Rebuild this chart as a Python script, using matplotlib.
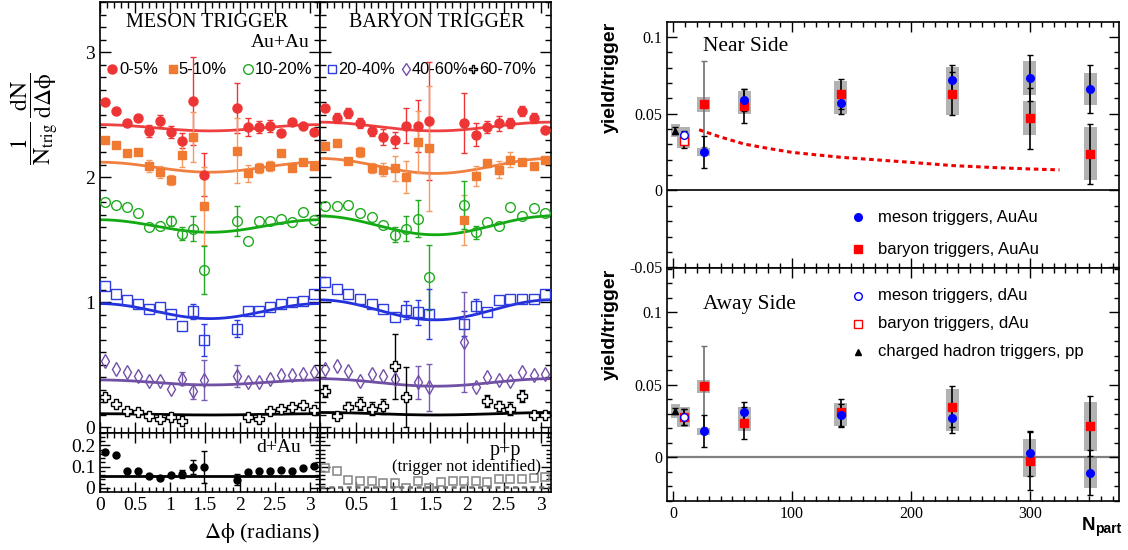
import numpy as np
import matplotlib
matplotlib.use("Agg")
import matplotlib.pyplot as plt
from matplotlib.ticker import MultipleLocator, FormatStrFormatter
from matplotlib.patches import Rectangle

plt.rcParams["font.family"] = "serif"
plt.rcParams["font.serif"] = ["Liberation Serif", "DejaVu Serif"]
plt.rcParams["mathtext.fontset"] = "stix"
plt.rcParams["axes.unicode_minus"] = False

SANS = "Liberation Sans"
nan = np.nan

# ---------------------------------------------------
# Left: dN/dDphi per trigger, 20 bins in 0..pi
# ---------------------------------------------------

N_BINS = 20
dphi = (np.arange(N_BINS) + 0.5) * np.pi / N_BINS

cent_labels = ["0-5%", "5-10%", "10-20%", "20-40%", "40-60%", "60-70%"]

# meson trigger, Au+Au
m_0_5 = [2.60, 2.53, 2.43, 2.47, 2.37, 2.45, 2.36, 2.29, 2.61, 2.02, nan, nan, 2.55, 2.40, 2.40, 2.41, 2.35, 2.44, 2.41, 2.36]
m_0_5_err = [0.03, 0.03, 0.03, 0.03, 0.05, 0.05, 0.05, 0.06, 0.35, 0.17, nan, nan, 0.20, 0.07, 0.05, 0.05, 0.03, 0.03, 0.03, 0.03]
m_5_10 = [2.30, 2.26, 2.19, 2.20, 2.09, 2.04, 1.98, 2.18, 2.32, 1.77, nan, nan, 2.21, 2.03, 2.07, 2.09, 2.19, 2.07, 2.12, 2.09]
m_5_10_err = [0.03, 0.03, 0.03, 0.03, 0.05, 0.05, 0.04, 0.10, 0.20, 0.31, nan, nan, 0.26, 0.07, 0.04, 0.04, 0.03, 0.03, 0.03, 0.03]
m_10_20 = [1.80, 1.78, 1.76, 1.71, 1.60, 1.61, 1.65, 1.55, 1.59, 1.26, nan, nan, 1.65, 1.49, 1.65, 1.65, 1.67, 1.64, 1.72, 1.66]
m_10_20_err = [0.02, 0.02, 0.02, 0.02, 0.02, 0.02, 0.04, 0.055, 0.10, 0.19, nan, nan, 0.12, 0.03, 0.02, 0.02, 0.02, 0.02, 0.02, 0.02]
m_20_40 = [1.13, 1.07, 1.02, 0.99, 0.95, 0.96, 0.91, 0.81, 0.93, 0.70, nan, nan, 0.79, 0.93, 0.93, 0.96, 0.99, 1.00, 1.01, 1.07]
m_20_40_err = [0.02, 0.02, 0.02, 0.02, 0.02, 0.02, 0.02, 0.03, 0.06, 0.13, nan, nan, 0.07, 0.02, 0.02, 0.02, 0.02, 0.02, 0.02, 0.02]
m_40_60 = [0.53, 0.47, 0.44, 0.41, 0.37, 0.37, 0.31, 0.39, 0.29, 0.38, nan, nan, 0.41, 0.36, 0.36, 0.39, 0.42, 0.42, 0.43, 0.44]
m_40_60_err = [0.02, 0.02, 0.02, 0.02, 0.02, 0.02, 0.02, 0.05, 0.06, 0.16, nan, nan, 0.09, 0.02, 0.02, 0.02, 0.02, 0.02, 0.02, 0.02]
m_60_70 = [0.24, 0.19, 0.13, 0.12, 0.09, 0.07, 0.08, 0.05, nan, nan, nan, nan, nan, 0.08, 0.07, 0.13, 0.15, 0.16, 0.18, 0.14]
m_60_70_err = [0.02, 0.02, 0.02, 0.02, 0.02, 0.02, 0.02, 0.02, nan, nan, nan, nan, nan, 0.02, 0.02, 0.02, 0.02, 0.02, 0.02, 0.02]

# baryon trigger, Au+Au
b_0_5 = [2.55, 2.47, 2.51, 2.43, 2.37, 2.32, 2.30, 2.41, 2.41, 2.45, nan, nan, 2.43, 2.34, 2.40, 2.43, 2.43, 2.53, 2.47, 2.38]
b_0_5_err = [0.03, 0.04, 0.04, 0.04, 0.04, 0.065, 0.065, 0.14, 0.21, 0.47, nan, nan, 0.24, 0.09, 0.05, 0.06, 0.04, 0.04, 0.04, 0.03]
b_5_10 = [2.25, 2.27, 2.13, 2.20, 2.07, 2.06, 2.07, 2.00, 2.28, 2.23, nan, nan, 1.66, 2.01, 2.11, 2.06, 2.14, 2.12, 2.09, 2.14]
b_5_10_err = [0.03, 0.03, 0.03, 0.04, 0.04, 0.05, 0.10, 0.13, 0.25, 0.50, nan, nan, 0.20, 0.08, 0.03, 0.07, 0.06, 0.03, 0.03, 0.03]
b_10_20 = [1.77, 1.77, 1.78, 1.71, 1.68, 1.62, 1.54, 1.59, 1.67, 1.20, nan, nan, 1.78, 1.56, 1.64, 1.61, 1.76, 1.69, 1.75, 1.71]
b_10_20_err = [0.02, 0.02, 0.02, 0.02, 0.02, 0.03, 0.06, 0.10, 0.15, 0.26, nan, nan, 0.19, 0.05, 0.02, 0.02, 0.02, 0.02, 0.02, 0.02]
b_20_40 = [1.16, 1.11, 1.07, 1.03, 0.99, 0.95, 0.88, 0.94, 0.92, 0.91, nan, nan, 0.83, 0.97, 0.92, 1.02, 1.03, 1.03, 1.03, 1.07]
b_20_40_err = [0.02, 0.02, 0.02, 0.02, 0.02, 0.02, 0.03, 0.07, 0.10, 0.20, nan, nan, 0.10, 0.06, 0.02, 0.02, 0.02, 0.02, 0.02, 0.02]
b_40_60 = [0.47, 0.49, 0.45, 0.37, 0.43, 0.41, 0.39, nan, 0.36, 0.32, nan, nan, 0.68, 0.32, 0.40, 0.38, 0.37, 0.44, 0.42, 0.43]
b_40_60_err = [0.02, 0.02, 0.02, 0.02, 0.02, 0.02, 0.03, nan, 0.13, 0.19, nan, nan, 0.40, 0.02, 0.02, 0.02, 0.02, 0.02, 0.02, 0.02]
b_60_70 = [0.29, 0.09, 0.16, 0.19, 0.15, 0.17, 0.49, 0.24, nan, nan, nan, nan, nan, nan, 0.21, 0.17, 0.15, 0.25, 0.10, 0.10]
b_60_70_err = [0.05, 0.03, 0.04, 0.05, 0.05, 0.06, 0.26, 0.24, nan, nan, nan, nan, nan, nan, 0.05, 0.04, 0.05, 0.05, 0.03, 0.03]

# flow background: value at 0 / pi and value at pi/2
meson_fit_edge = [2.42, 2.12, 1.66, 0.99, 0.38, 0.11]
meson_fit_mid = [2.37, 2.04, 1.56, 0.87, 0.34, 0.10]
baryon_fit_edge = [2.44, 2.15, 1.69, 1.02, 0.39, 0.12]
baryon_fit_mid = [2.37, 2.03, 1.54, 0.86, 0.33, 0.10]

# d+Au (meson side) and p+p (baryon side)
dau = [0.168, 0.152, 0.079, 0.079, 0.054, 0.046, 0.062, 0.065, 0.098, 0.098, nan, nan, 0.038, 0.076, 0.081, 0.078, 0.082, 0.078, 0.095, 0.105]
dau_err = [0.005, 0.005, 0.005, 0.005, 0.005, 0.005, 0.005, 0.018, 0.035, 0.074, nan, nan, 0.025, 0.005, 0.005, 0.005, 0.005, 0.005, 0.005, 0.005]
dau_level = 0.054
pp = [0.094, 0.081, 0.035, 0.030, 0.030, 0.025, 0.025, -0.002, 0.030, -0.002, 0.027, 0.030, 0.033, 0.033, 0.027, 0.041, 0.041, 0.041, 0.045, 0.051]
pp_level = 0.002

# ---------------------------------------------------
# Right: yields vs Npart
# ---------------------------------------------------

npart_auau = [26, 60, 141, 235, 300, 351]
npart_dau = [9]
npart_pp = [2]

near_meson = [0.025, 0.059, 0.057, 0.072, 0.073, 0.066]
near_meson_stat = [0.0105, 0.007, 0.007, 0.0095, 0.015, 0.0155]
near_meson_sys = [0.0028, 0.0055, 0.0075, 0.0086, 0.011, 0.0105]
near_baryon = [0.056, 0.055, 0.063, 0.063, 0.047, 0.024]
near_baryon_stat = [0.028, 0.011, 0.0097, 0.014, 0.020, 0.0195]
near_baryon_sys = [0.0048, 0.0055, 0.008, 0.014, 0.011, 0.017]
near_dau_meson, near_dau_meson_stat, near_dau_meson_sys = [0.036], [0.003], [0.005]
near_dau_baryon, near_dau_baryon_stat, near_dau_baryon_sys = [0.0325], [0.005], [0.005]
near_pp, near_pp_stat, near_pp_sys = [0.039], [0.0025], [0.004]

near_curve_npart = [22, 40, 60, 80, 100, 141, 200, 235, 270, 300, 325]
near_curve_yield = [0.0395, 0.0348, 0.0302, 0.0274, 0.0248, 0.0216, 0.0183, 0.0162, 0.0149, 0.0140, 0.0134]

away_meson = [0.018, 0.031, 0.029, 0.027, 0.003, -0.0105]
away_meson_stat = [0.011, 0.007, 0.008, 0.010, 0.0155, 0.0155]
away_meson_sys = [0.0025, 0.004, 0.0075, 0.0087, 0.010, 0.0103]
away_baryon = [0.049, 0.024, 0.031, 0.035, -0.0025, 0.0215]
away_baryon_stat = [0.028, 0.011, 0.0095, 0.014, 0.020, 0.0205]
away_baryon_sys = [0.0045, 0.0055, 0.0065, 0.0123, 0.0107, 0.017]
away_dau_meson, away_dau_meson_stat, away_dau_meson_sys = [0.028], [0.0055], [0.007]
away_dau_baryon, away_dau_baryon_stat, away_dau_baryon_sys = [0.028], [0.0055], [0.007]
away_pp, away_pp_stat, away_pp_sys = [0.032], [0.002], [0.0045]

# ---------------------------------------------------
# Styles
# ---------------------------------------------------

STYLES = [
    dict(marker="o", mfc="#ee3535", mec="#ee3535", ms=6.5, mew=1.0),
    dict(marker="s", mfc="#f07a32", mec="#f07a32", ms=6.0, mew=1.0),
    dict(marker="o", mfc="none", mec="#22aa22", ms=7.0, mew=1.0),
    dict(marker="s", mfc="none", mec="#2d3cdc", ms=7.5, mew=1.0),
    dict(marker="d", mfc="none", mec="#7350a8", ms=7.5, mew=1.0),
    dict(marker="P", mfc="white", mec="black", ms=7.5, mew=1.0),
]
BAR_COLORS = ["#ee3535", "#f59a60", "#22aa22", "#2d3cdc", "#7a5cae", "black"]
FIT_COLORS = ["#ee4040", "#f08040", "#11aa11", "#2230dc", "#7050a5", "black"]

W, H = 1128, 550


def box(x0, y0, x1, y1):
    return [x0 / W, 1 - y1 / H, (x1 - x0) / W, (y1 - y0) / H]


def root_ticks(ax, labelsize, major=8, minor=4):
    ax.tick_params(which="both", direction="in", top=True, right=True,
                   labelsize=labelsize, width=1.0)
    ax.tick_params(which="major", length=major)
    ax.tick_params(which="minor", length=minor)
    for s in ax.spines.values():
        s.set_linewidth(1.2)


def visible(err, limit):
    # bars shorter than the marker are not drawn
    err = np.asarray(err, dtype=float)
    return np.where(err < limit, nan, err)


fig = plt.figure(figsize=(W / 100, H / 100), dpi=100)

phi_fine = np.linspace(0, np.pi, 200)


def draw_trigger(ax, series, errs, fit_edge, fit_mid):
    for i, (vals, err) in enumerate(zip(series, errs)):
        st = STYLES[i]
        ax.errorbar(dphi, vals, yerr=visible(err, 0.035), fmt="none",
                    ecolor=BAR_COLORS[i], elinewidth=1.0, capsize=2,
                    capthick=1.0, zorder=3)
        ax.plot(dphi, vals, ls="none", marker=st["marker"], mfc=st["mfc"],
                mec=st["mec"], ms=st["ms"], mew=st["mew"], zorder=4)
        fit = fit_mid[i] + (fit_edge[i] - fit_mid[i]) * (1 + np.cos(2 * phi_fine)) / 2
        ax.plot(phi_fine, fit, color=FIT_COLORS[i], lw=2.0, zorder=2)
    ax.set_xlim(0, np.pi)
    ax.set_ylim(-0.04, 3.40)
    ax.xaxis.set_major_locator(MultipleLocator(0.5))
    ax.xaxis.set_minor_locator(MultipleLocator(0.1))
    ax.yaxis.set_major_locator(MultipleLocator(1))
    ax.yaxis.set_minor_locator(MultipleLocator(0.1))
    root_ticks(ax, 14)
    ax.tick_params(labelbottom=False)


ax_m = fig.add_axes(box(100, 2, 319.5, 432.5))
ax_b = fig.add_axes(box(319.5, 2, 551, 432.5))

draw_trigger(ax_m,
             [m_0_5, m_5_10, m_10_20, m_20_40, m_40_60, m_60_70],
             [m_0_5_err, m_5_10_err, m_10_20_err, m_20_40_err, m_40_60_err, m_60_70_err],
             meson_fit_edge, meson_fit_mid)
draw_trigger(ax_b,
             [b_0_5, b_5_10, b_10_20, b_20_40, b_40_60, b_60_70],
             [b_0_5_err, b_5_10_err, b_10_20_err, b_20_40_err, b_40_60_err, b_60_70_err],
             baryon_fit_edge, baryon_fit_mid)
ax_b.tick_params(labelleft=False)
ax_m.yaxis.set_major_formatter(FormatStrFormatter("%g"))

ax_m.text(0.49, 0.953, "MESON TRIGGER", transform=ax_m.transAxes,
          ha="center", va="center", fontsize=14.5)
ax_m.text(0.955, 0.905, "Au+Au", transform=ax_m.transAxes,
          ha="right", va="center", fontsize=14)
ax_b.text(0.507, 0.952, "BARYON TRIGGER", transform=ax_b.transAxes,
          ha="center", va="center", fontsize=14.5)

# in-panel centrality keys
key_y = 0.844
for i, (mx, tx) in enumerate([(0.055, 0.086), (0.332, 0.358), (0.674, 0.703)]):
    st = STYLES[i]
    ax_m.plot([mx], [key_y], transform=ax_m.transAxes, ls="none", clip_on=False,
              marker=st["marker"], mfc=st["mfc"], mec=st["mec"], ms=st["ms"], mew=st["mew"])
    ax_m.text(tx, key_y, cent_labels[i], transform=ax_m.transAxes,
              ha="left", va="center", fontsize=12, family=SANS)
for j, (mx, tx) in enumerate([(0.054, 0.080), (0.373, 0.400), (0.664, 0.690)]):
    i = j + 3
    st = STYLES[i]
    ax_b.plot([mx], [key_y], transform=ax_b.transAxes, ls="none", clip_on=False,
              marker=st["marker"], mfc=st["mfc"], mec=st["mec"],
              ms=st["ms"] * 0.85, mew=st["mew"])
    ax_b.text(tx, key_y, cent_labels[i], transform=ax_b.transAxes,
              ha="left", va="center", fontsize=11.8, family=SANS)

# lower panels: d+Au and p+p
ax_dau = fig.add_axes(box(100, 432.5, 319.5, 491.7))
ax_pp = fig.add_axes(box(319.5, 432.5, 551, 491.7))

ax_dau.errorbar(dphi, dau, yerr=visible(dau_err, 0.01), fmt="o", ls="none",
                color="black", ms=5, elinewidth=1.0, capsize=2, zorder=3)
ax_dau.axhline(dau_level, color="black", lw=2.0, zorder=2)
ax_pp.plot(dphi, pp, "s", ls="none", mfc="none", mec="#8c8c8c", ms=6, mew=1.2)
ax_pp.axhline(pp_level, color="#707070", lw=1.8, ls=(0, (2, 1.5)))

for ax in (ax_dau, ax_pp):
    ax.set_xlim(0, np.pi)
    ax.set_ylim(-0.018, 0.26)
    ax.xaxis.set_major_locator(MultipleLocator(0.5))
    ax.xaxis.set_minor_locator(MultipleLocator(0.1))
    ax.yaxis.set_major_locator(MultipleLocator(0.1))
    ax.yaxis.set_minor_locator(MultipleLocator(0.02))
    root_ticks(ax, 14, major=7, minor=3.5)
    ax.xaxis.set_major_formatter(FormatStrFormatter("%g"))
    ax.yaxis.set_major_formatter(FormatStrFormatter("%g"))
ax_pp.set_xticks([0.5, 1.0, 1.5, 2.0, 2.5, 3.0])
ax_pp.tick_params(labelleft=False)

ax_dau.text(0.916, 0.74, "d+Au", transform=ax_dau.transAxes,
            ha="right", va="center", fontsize=14)
ax_pp.text(0.869, 0.70, "p+p", transform=ax_pp.transAxes,
           ha="right", va="center", fontsize=14.5)
ax_pp.text(0.955, 0.42, "(trigger not identified)", transform=ax_pp.transAxes,
           ha="right", va="center", fontsize=12)

fig.text(35 / W, 1 - 119 / H,
         r"$\dfrac{\mathrm{1}}{\mathrm{N}_{\mathrm{trig}}}\,\dfrac{\mathrm{dN}}{\mathrm{d\Delta ϕ}}$",
         rotation=90, ha="center", va="center", fontsize=17)
fig.text(262 / W, 1 - 533 / H, r"$\mathrm{\Delta ϕ}$ (radians)",
         ha="center", va="center", fontsize=16)

# ---------------------------------------------------
# Right panels
# ---------------------------------------------------

BOX_HALF = 5.5
BOX_COLOR = "#b2b2b2"


def sys_boxes(ax, x, vals, sys, half):
    for xi, v, s in zip(x, vals, sys):
        ax.add_patch(Rectangle((xi - half, v - s), 2 * half, 2 * s,
                               fc=BOX_COLOR, ec="none", zorder=1))


def stat_points(ax, x, vals, stat, bar_color="black", **kw):
    ax.errorbar(x, vals, yerr=stat, fmt="none", ecolor=bar_color,
                elinewidth=1.2, capsize=2, capthick=1.0, zorder=2)
    ax.plot(x, vals, ls="none", zorder=4, **kw)


MESON_AU = dict(marker="o", mfc="#0000ff", mec="#0000ff", ms=5.5)
BARYON_AU = dict(marker="s", mfc="#ff0000", mec="#ff0000", ms=5.5)
MESON_DAU = dict(marker="o", mfc="white", mec="#0000ff", ms=5.5, mew=1.0)
BARYON_DAU = dict(marker="s", mfc="white", mec="#ff0000", ms=5.5, mew=1.0)
PP = dict(marker="^", mfc="black", mec="black", ms=5)


def draw_side(ax, meson, meson_stat, meson_sys, baryon, baryon_stat, baryon_sys,
              dau_m, dau_m_stat, dau_m_sys, dau_b, dau_b_stat, dau_b_sys,
              ppv, pp_stat, pp_sys):
    sys_boxes(ax, npart_auau, meson, meson_sys, BOX_HALF)
    sys_boxes(ax, npart_auau, baryon, baryon_sys, BOX_HALF)
    sys_boxes(ax, npart_dau, dau_m, dau_m_sys, 5.2)
    sys_boxes(ax, npart_dau, dau_b, dau_b_sys, 5.2)
    sys_boxes(ax, npart_pp, ppv, pp_sys, 4.0)
    # first baryon bar (Npart 26) drawn grey
    stat_points(ax, npart_auau[:1], baryon[:1], baryon_stat[:1], "#707070", **BARYON_AU)
    stat_points(ax, npart_auau[1:], baryon[1:], baryon_stat[1:], "black", **BARYON_AU)
    stat_points(ax, npart_auau, meson, meson_stat, "black", **MESON_AU)
    stat_points(ax, npart_dau, dau_b, dau_b_stat, "black", **BARYON_DAU)
    stat_points(ax, npart_dau, dau_m, dau_m_stat, "black", **MESON_DAU)
    stat_points(ax, npart_pp, ppv, pp_stat, "black", **PP)
    ax.set_xlim(-5, 375)
    ax.xaxis.set_major_locator(MultipleLocator(100))
    ax.xaxis.set_minor_locator(MultipleLocator(10))
    ax.yaxis.set_major_locator(MultipleLocator(0.05))
    ax.yaxis.set_minor_locator(MultipleLocator(0.01))
    ax.yaxis.set_major_formatter(FormatStrFormatter("%g"))
    root_ticks(ax, 11.5, major=7, minor=3.5)


ax_near = fig.add_axes(box(667, 22, 1119, 268))
ax_away = fig.add_axes(box(667, 268, 1119, 501))

draw_side(ax_near, near_meson, near_meson_stat, near_meson_sys,
          near_baryon, near_baryon_stat, near_baryon_sys,
          near_dau_meson, near_dau_meson_stat, near_dau_meson_sys,
          near_dau_baryon, near_dau_baryon_stat, near_dau_baryon_sys,
          near_pp, near_pp_stat, near_pp_sys)
draw_side(ax_away, away_meson, away_meson_stat, away_meson_sys,
          away_baryon, away_baryon_stat, away_baryon_sys,
          away_dau_meson, away_dau_meson_stat, away_dau_meson_sys,
          away_dau_baryon, away_dau_baryon_stat, away_dau_baryon_sys,
          away_pp, away_pp_stat, away_pp_sys)

ax_near.plot(near_curve_npart, near_curve_yield, color="#ee0000", lw=2.2,
             ls=(0, (1.5, 1.2)), zorder=3)
ax_near.axhline(0, color="black", lw=1.2, zorder=1.5)
ax_near.set_ylim(-0.0505, 0.1097)
ax_near.tick_params(labelbottom=False)

ax_away.axhline(0, color="#808080", lw=1.6, zorder=1.5)
ax_away.set_ylim(-0.03, 0.1305)

ax_near.text(0.08, 0.902, "Near Side", transform=ax_near.transAxes,
             ha="left", va="center", fontsize=15.5)
ax_away.text(0.08, 0.845, "Away Side", transform=ax_away.transAxes,
             ha="left", va="center", fontsize=15.5)

key_x, key_tx = 0.4226, 0.467
for style, label, yy in [(MESON_AU, "meson triggers, AuAu", 0.207),
                         (BARYON_AU, "baryon triggers, AuAu", 0.077)]:
    ax_near.plot([key_x], [yy], transform=ax_near.transAxes, ls="none", **style)
    ax_near.text(key_tx, yy, label, transform=ax_near.transAxes,
                 ha="left", va="center", fontsize=12, family=SANS)
for style, label, yy in [(MESON_DAU, "meson triggers, dAu", 0.88),
                         (BARYON_DAU, "baryon triggers, dAu", 0.76),
                         (PP, "charged hadron triggers, pp", 0.64)]:
    ax_away.plot([key_x], [yy], transform=ax_away.transAxes, ls="none", **style)
    ax_away.text(key_tx, yy, label, transform=ax_away.transAxes,
                 ha="left", va="center", fontsize=12, family=SANS)

for ytop in (22, 269):
    fig.text(610 / W, 1 - ytop / H, "yield/trigger", rotation=90,
             ha="center", va="top", fontsize=14, fontweight="bold", family=SANS)

fig.text(1081.5 / W, 1 - 530 / H, "N", ha="left", va="baseline",
         fontsize=13.5, fontweight="bold", family=SANS)
fig.text(1095.5 / W, 1 - 533 / H, "part", ha="left", va="baseline",
         fontsize=10, fontweight="bold", family=SANS)

fig.savefig("out.png", dpi=100)
